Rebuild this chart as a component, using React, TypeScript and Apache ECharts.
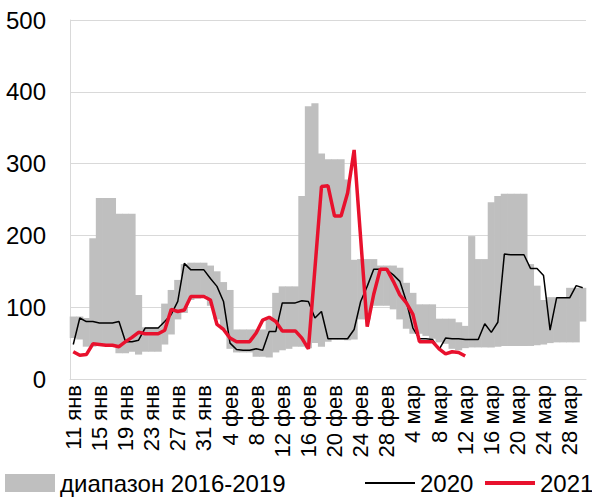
import React, { useEffect, useRef } from "react";
import * as echarts from "echarts";

const monthDays: [string, number, number][] = [
  ["янв", 11, 31],
  ["фев", 1, 28],
  ["мар", 1, 30],
];
const categories: string[] = [];
monthDays.forEach(([m, a, b]) => {
  for (let d = a; d <= b; d++) categories.push(`${d} ${m}`);
});

const rangeMin = [
  57, 55, 45, 45, 46, 46, 46, 36, 36, 38,
  34, 38, 38, 38, 48, 62, 83, 92, 110, 112,
  116, 102, 83, 69, 42, 37, 37, 37, 31, 31,
  30, 37, 40, 42, 45, 45, 43, 50, 45, 52,
  55, 55, 54, 55, 83, 83, 102, 102, 102, 97,
  83, 70, 63, 63, 60, 56, 51, 49, 42, 40,
  43, 44, 44, 44, 44, 45, 46, 46, 46, 46,
  46, 47, 48, 50, 51, 51, 51, 51, 80,
];
const rangeMax = [
  87, 87, 85, 196, 252, 252, 252, 230, 230, 230,
  117, 72, 72, 72, 105, 124, 138, 160, 162, 162,
  162, 158, 150, 135, 124, 69, 69, 69, 69, 69,
  85, 120, 129, 129, 129, 255, 380, 384, 314, 306,
  306, 306, 278, 166, 167, 167, 167, 158, 158, 158,
  155, 134, 120, 104, 104, 104, 84, 84, 84, 79,
  74, 199, 167, 167, 246, 255, 258, 258, 258, 258,
  160, 130, 110, 114, 114, 114, 127, 127, 127,
];
const y2020 = [
  48, 85, 80, 80, 78, 78, 78, 80, 52, 52,
  54, 71, 71, 71, 80, 90, 108, 161, 152, 152,
  152, 140, 129, 108, 50, 41, 40, 40, 42, 40,
  66, 66, 106, 106, 106, 109, 108, 85, 94, 56,
  56, 56, 56, 69, 108, 129, 153, 153, 152, 145,
  136, 108, 71, 56, 56, 55, 41, 57, 56, 56,
  55, 55, 55, 77, 65, 79, 174, 173, 173, 173,
  154, 154, 144, 68, 113, 113, 113, 130, 127,
];
const y2021 = [
  38, 33, 34, 49, 48, 47, 47, 45, 52, 58,
  65, 63, 63, 63, 68, 97, 94, 96, 115, 115,
  115, 110, 76, 69, 57, 52, 52, 52, 64, 82,
  86, 80, 67, 67, 67, 57, 42, 154, 268, 269,
  227, 227, 259, 319, 196, 73, 118, 153, 153, 136,
  117, 106, 90, 52, 52, 52, 42, 35, 38, 37,
  32,
];

const FONT = "'Liberation Sans', Arial, sans-serif";
const GREY = "#BFBFBF";
const RED = "#E8112D";

const legendText = { fontSize: 24, color: "#000", fontFamily: FONT };

export default function App() {
  const ref = useRef<HTMLDivElement>(null);
  useEffect(() => {
    if (!ref.current) return;
    const chart = echarts.init(ref.current, undefined, { renderer: "svg" });
    const bandData = categories.map((_, i) => [i, rangeMin[i], rangeMax[i]]);
    chart.setOption({
      animation: false,
      textStyle: { fontFamily: FONT },
      grid: { left: 70, right: 6, top: 20, bottom: 122, containLabel: false },
      legend: [
        {
          data: [{ name: "диапазон 2016-2019", icon: "rect" }],
          left: 5,
          top: 471,
          padding: 0,
          itemWidth: 50,
          itemHeight: 18,
          itemStyle: { color: GREY, borderWidth: 0 },
          textStyle: legendText,
        },
        {
          data: [{ name: "2020", icon: "rect" }],
          left: 365,
          top: 471,
          padding: 0,
          itemWidth: 50,
          itemHeight: 2,
          itemStyle: { color: "#000", borderWidth: 0 },
          lineStyle: { width: 0, opacity: 0 },
          textStyle: legendText,
        },
        {
          data: [{ name: "2021", icon: "rect" }],
          left: 485,
          top: 471,
          padding: 0,
          itemWidth: 50,
          itemHeight: 4,
          itemStyle: { color: RED, borderWidth: 0 },
          lineStyle: { width: 0, opacity: 0 },
          textStyle: legendText,
        },
      ],
      xAxis: {
        type: "category",
        data: categories,
        boundaryGap: true,
        axisLine: { show: true, lineStyle: { color: "#D9D9D9", width: 1 } },
        axisTick: { show: false },
        axisLabel: {
          interval: 3,
          rotate: 90,
          fontSize: 22,
          color: "#000",
          margin: 6,
          fontFamily: FONT,
        },
        splitLine: { show: false },
      },
      yAxis: {
        type: "value",
        min: 0,
        max: 500,
        interval: 100,
        axisLine: { show: true, lineStyle: { color: "#D9D9D9", width: 1 } },
        axisTick: { show: false },
        axisLabel: { fontSize: 24, color: "#000", margin: 24, fontFamily: FONT },
        splitLine: { show: true, lineStyle: { color: "#D9D9D9", width: 1 } },
      },
      series: [
        {
          name: "диапазон 2016-2019",
          type: "custom",
          data: bandData,
          encode: { x: 0, y: [1, 2] },
          itemStyle: { color: GREY },
          renderItem: (params: any, api: any) => {
            const i = api.value(0);
            const lo = api.coord([i, api.value(1)]);
            const hi = api.coord([i, api.value(2)]);
            const w = api.size([1, 0])[0];
            return {
              type: "rect",
              shape: { x: lo[0] - w / 2 - 0.3, y: hi[1], width: w + 0.6, height: lo[1] - hi[1] },
              style: { fill: GREY },
            };
          },
        },
        {
          name: "2020",
          type: "line",
          data: y2020,
          symbol: "none",
          lineStyle: { color: "#000", width: 1.5 },
          itemStyle: { color: "#000" },
        },
        {
          name: "2021",
          type: "line",
          data: y2021,
          symbol: "none",
          lineStyle: { color: RED, width: 3.5 },
          itemStyle: { color: RED },
        },
      ],
    });
    return () => chart.dispose();
  }, []);
  return <div ref={ref} style={{ width: 592, height: 501, position: "absolute", left: 0, top: 0 }} />;
}
